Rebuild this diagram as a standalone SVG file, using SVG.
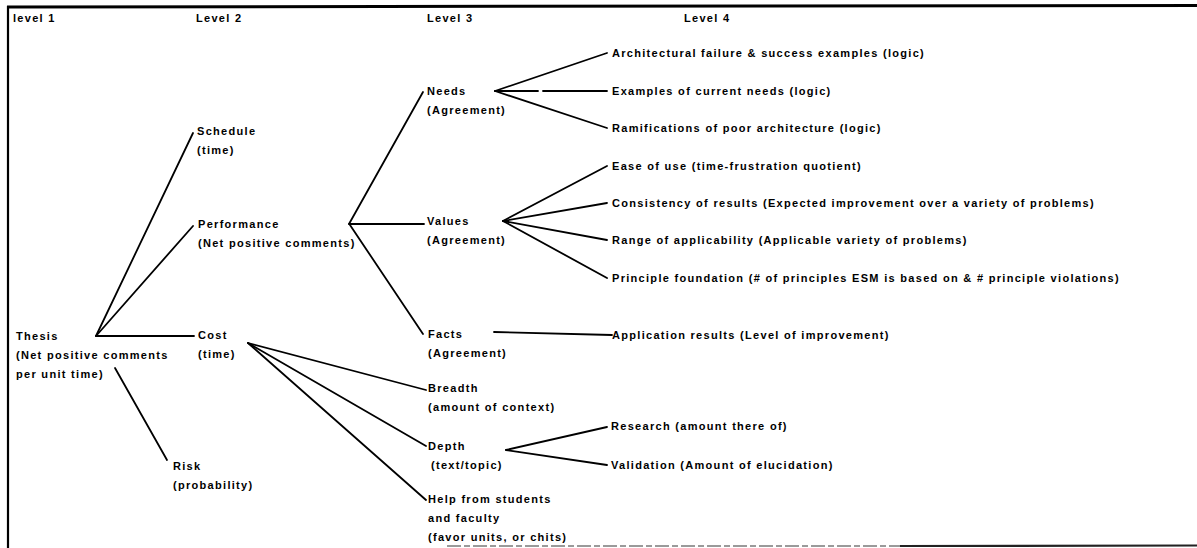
<svg xmlns="http://www.w3.org/2000/svg" width="1197" height="548" viewBox="0 0 1197 548">
  <style>
    text { font-family: "Liberation Sans", Arial, sans-serif; font-weight: bold; font-size: 11px; letter-spacing: 1.3px; fill: #000; }
    .edge { stroke: #000; stroke-width: 1.8; fill: none; stroke-linecap: round; }
    .frame { stroke: #000; fill: none; }
  </style>
  <rect width="1197" height="548" fill="#fff"/>

  <!-- frame -->
  <g id="frame">
    <line class="frame" x1="7" y1="7" x2="1197" y2="5.5" stroke-width="3"/>
    <line class="frame" x1="8" y1="6" x2="8" y2="548" stroke-width="2.2"/>
    <line x1="447" y1="546" x2="900" y2="546" stroke="#9a9a9a" stroke-width="2" stroke-dasharray="14 3 6 3"/>
    <line x1="900" y1="546" x2="1197" y2="545.5" stroke="#222" stroke-width="2.2"/>
  </g>

  <!-- column headings -->
  <g id="headings">
    <text x="13" y="22">level 1</text>
    <text x="196" y="22">Level 2</text>
    <text x="427" y="22">Level 3</text>
    <text x="684" y="22">Level 4</text>
  </g>

  <!-- connectors -->
  <g id="connectors">
    <!-- Thesis -->
    <line class="edge" x1="96" y1="336" x2="193" y2="133"/>
    <line class="edge" x1="96" y1="336" x2="193" y2="226"/>
    <line class="edge" x1="96" y1="336" x2="194" y2="336"/>
    <line class="edge" x1="115" y1="368" x2="167" y2="460"/>
    <!-- Performance -->
    <line class="edge" x1="349" y1="224" x2="423" y2="92"/>
    <line class="edge" x1="349" y1="224" x2="424" y2="224"/>
    <line class="edge" x1="350" y1="225" x2="423" y2="334"/>
    <!-- Cost -->
    <line class="edge" x1="248" y1="343" x2="426" y2="390"/>
    <line class="edge" x1="248" y1="343" x2="426" y2="446"/>
    <line class="edge" x1="248" y1="343" x2="426" y2="500"/>
    <!-- Needs -->
    <line class="edge" x1="495" y1="91" x2="607" y2="53"/>
    <line class="edge" x1="495" y1="91" x2="538" y2="91"/>
    <line class="edge" x1="543" y1="91" x2="607" y2="91"/>
    <line class="edge" x1="495" y1="91" x2="607" y2="128"/>
    <!-- Values -->
    <line class="edge" x1="503" y1="221" x2="607" y2="166"/>
    <line class="edge" x1="503" y1="221" x2="607" y2="203"/>
    <line class="edge" x1="503" y1="221" x2="607" y2="240"/>
    <line class="edge" x1="503" y1="221" x2="607" y2="278"/>
    <!-- Facts -->
    <line class="edge" x1="494" y1="332" x2="612" y2="335"/>
    <!-- Depth -->
    <line class="edge" x1="506" y1="450" x2="607" y2="427"/>
    <line class="edge" x1="506" y1="450" x2="607" y2="465"/>
  </g>

  <!-- level 1 -->
  <g id="thesis">
    <text x="16" y="340">Thesis</text>
    <text x="16" y="359">(Net positive comments</text>
    <text x="16" y="378">per unit time)</text>
  </g>

  <!-- level 2 -->
  <g id="schedule">
    <text x="197" y="135">Schedule</text>
    <text x="197" y="154">(time)</text>
  </g>
  <g id="performance">
    <text x="198" y="228">Performance</text>
    <text x="198" y="247">(Net positive comments)</text>
  </g>
  <g id="cost">
    <text x="198" y="339">Cost</text>
    <text x="198" y="358">(time)</text>
  </g>
  <g id="risk">
    <text x="173" y="470">Risk</text>
    <text x="173" y="489">(probability)</text>
  </g>

  <!-- level 3 -->
  <g id="needs">
    <text x="427" y="95">Needs</text>
    <text x="427" y="114">(Agreement)</text>
  </g>
  <g id="values">
    <text x="427" y="225">Values</text>
    <text x="427" y="244">(Agreement)</text>
  </g>
  <g id="facts">
    <text x="428" y="338">Facts</text>
    <text x="428" y="357">(Agreement)</text>
  </g>
  <g id="breadth">
    <text x="428" y="392">Breadth</text>
    <text x="428" y="411">(amount of context)</text>
  </g>
  <g id="depth">
    <text x="428" y="450">Depth</text>
    <text x="431" y="469">(text/topic)</text>
  </g>
  <g id="help">
    <text x="428" y="503">Help from students</text>
    <text x="428" y="522">and faculty</text>
    <text x="428" y="541">(favor units, or chits)</text>
  </g>

  <!-- level 4 -->
  <g id="architectural">
    <text x="612" y="57">Architectural failure &amp; success examples (logic)</text>
  </g>
  <g id="examples">
    <text x="612" y="95">Examples of current needs (logic)</text>
  </g>
  <g id="ramifications">
    <text x="612" y="132">Ramifications of poor architecture (logic)</text>
  </g>
  <g id="ease">
    <text x="612" y="170">Ease of use (time-frustration quotient)</text>
  </g>
  <g id="consistency">
    <text x="612" y="207">Consistency of results (Expected improvement over a variety of problems)</text>
  </g>
  <g id="range">
    <text x="612" y="244">Range of applicability (Applicable variety of problems)</text>
  </g>
  <g id="principle">
    <text x="612" y="282">Principle foundation (# of principles ESM is based on &amp; # principle violations)</text>
  </g>
  <g id="application">
    <text x="612" y="339">Application results (Level of improvement)</text>
  </g>
  <g id="research">
    <text x="611" y="430">Research (amount there of)</text>
  </g>
  <g id="validation">
    <text x="611" y="469">Validation (Amount of elucidation)</text>
  </g>
</svg>
